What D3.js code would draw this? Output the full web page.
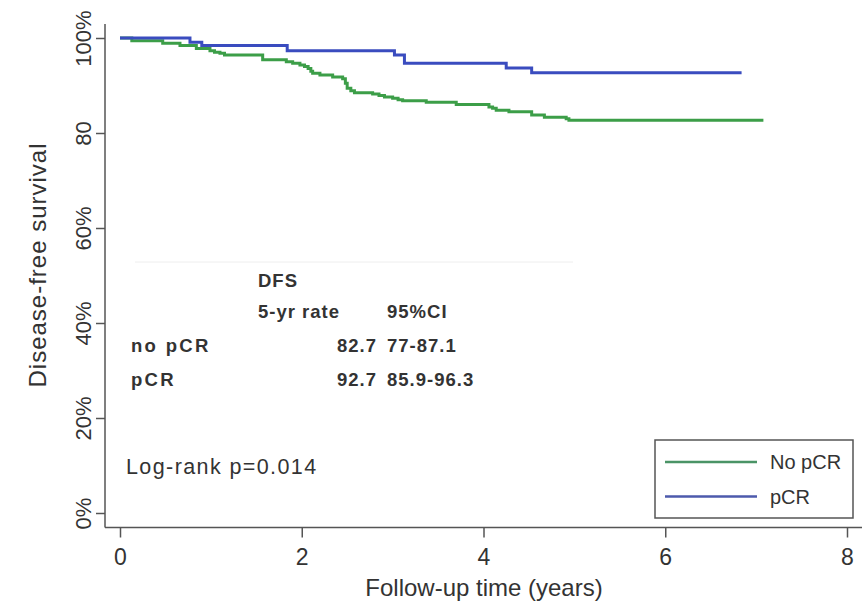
<!DOCTYPE html>
<html>
<head>
<meta charset="utf-8">
<script src="https://cdn.jsdelivr.net/npm/d3@7"></script>
<style>
  body { margin: 0; background: #fff; }
  text { font-family: "Liberation Sans", Arial, sans-serif; fill: #333; }
</style>
</head>
<body>
<svg id="chart" width="868" height="604"></svg>
<script>
// KM curves (time in years, survival as fraction)
const noPcrTime = [0, 0.13, 0.47, 0.66, 0.84, 0.99, 1.04, 1.10, 1.15, 1.57, 1.83, 1.90, 1.98, 2.03, 2.07, 2.10, 2.12, 2.20, 2.34, 2.45, 2.48, 2.50, 2.54, 2.58, 2.78, 2.85, 2.91, 3.00, 3.06, 3.11, 3.37, 3.70, 4.06, 4.10, 4.14, 4.28, 4.53, 4.67, 4.91, 4.94, 7.08];
const noPcrSurv = [1.000, 0.994, 0.989, 0.984, 0.978, 0.973, 0.970, 0.968, 0.964, 0.954, 0.950, 0.947, 0.943, 0.940, 0.936, 0.930, 0.926, 0.922, 0.918, 0.914, 0.905, 0.894, 0.889, 0.885, 0.882, 0.879, 0.876, 0.873, 0.870, 0.868, 0.865, 0.860, 0.855, 0.852, 0.848, 0.845, 0.838, 0.833, 0.830, 0.827, 0.827];
const pcrTime = [0, 0.77, 0.90, 1.84, 3.02, 3.13, 4.25, 4.53, 6.84];
const pcrSurv = [1.000, 0.991, 0.984, 0.973, 0.964, 0.947, 0.937, 0.927, 0.927];

const xTicks = [0, 2, 4, 6, 8];
const yTicks = [0, 0.2, 0.4, 0.6, 0.8, 1.0];
const yTickLabels = ["0%", "20%", "40%", "60%", "80", "100%"];

const tableHeader = ["DFS", "5-yr rate", "95%CI"];
const tableGroups = ["no pCR", "pCR"];
const tableRates = ["82.7", "92.7"];
const tableCI = ["77-87.1", "85.9-96.3"];

const legendLabels = ["No pCR", "pCR"];
const colors = ["#3c9e48", "#3a4cbf"];
const legendColors = ["#4a9466", "#4d5aac"];

const svg = d3.select("#chart");
const x = d3.scaleLinear().domain([0, 8]).range([120, 847]);
const y = d3.scaleLinear().domain([0, 1]).range([513, 38]);

const axisX = 105, axisY = 527.5;

// линии осей
svg.append("line").attr("x1", axisX).attr("x2", axisX).attr("y1", 24).attr("y2", axisY)
    .attr("stroke", "#555").attr("stroke-width", 1.5);
svg.append("line").attr("x1", axisX).attr("x2", 862).attr("y1", axisY).attr("y2", axisY)
    .attr("stroke", "#555").attr("stroke-width", 1.5);

//ось ox
const gx = svg.append("g")
    .attr("transform", `translate(0,${axisY})`)
    .call(d3.axisBottom(x).tickValues(xTicks).tickSize(10).tickSizeOuter(0).tickFormat(d3.format("d")));
gx.select(".domain").remove();
gx.selectAll("line").attr("stroke", "#555").attr("stroke-width", 1.5);
gx.selectAll("text").style("font-size", "23px").attr("y", 37).attr("dy", 0).attr("fill", "#333");

//ось oy
const gy = svg.append("g")
    .attr("transform", `translate(${axisX},0)`)
    .call(d3.axisLeft(y).tickValues(yTicks).tickSize(9).tickSizeOuter(0).tickFormat((d, i) => yTickLabels[i]));
gy.select(".domain").remove();
gy.selectAll("line").attr("stroke", "#555").attr("stroke-width", 1.5);
gy.selectAll("text")
    .attr("transform", "rotate(-90)")
    .attr("x", 0).attr("y", -14).attr("dy", 0)
    .attr("text-anchor", "middle")
    .style("font-size", "22px").attr("fill", "#333");

//подписи осей
svg.append("text")
    .attr("x", 484).attr("y", 596)
    .attr("text-anchor", "middle")
    .style("font-size", "24px")
    .text("Follow-up time (years)");
svg.append("text")
    .attr("transform", "translate(46,265) rotate(-90)")
    .attr("text-anchor", "middle")
    .style("font-size", "24px").style("letter-spacing", "1px")
    .text("Disease-free survival");

// кривые
const line = d3.line().x(d => x(d[0])).y(d => y(d[1])).curve(d3.curveStepAfter);
const series = [
    d3.zip(noPcrTime, noPcrSurv),
    d3.zip(pcrTime, pcrSurv)
];
svg.selectAll(".km")
    .data(series)
    .enter()
    .append("path")
    .attr("class", "km")
    .attr("d", line)
    .attr("fill", "none")
    .attr("stroke", (d, i) => colors[i])
    .attr("stroke-width", 3);

// таблица
svg.append("line").attr("x1", 135).attr("x2", 573).attr("y1", 262).attr("y2", 262)
    .attr("stroke", "#eeeeee").attr("stroke-width", 1);
const tbl = svg.append("g").style("font-size", "18.5px").style("font-weight", "bold")
    .style("letter-spacing", "1px");
tbl.append("text").attr("x", 258).attr("y", 287).attr("fill", "#111").text(tableHeader[0]);
tbl.append("text").attr("x", 258).attr("y", 318).attr("fill", "#111").text(tableHeader[1]);
tbl.append("text").attr("x", 387).attr("y", 318).attr("fill", "#111").text(tableHeader[2]);
tableGroups.forEach((g, i) => {
    const yy = 352 + i * 34;
    tbl.append("text").attr("x", 131).attr("y", yy).attr("fill", "#111").style("letter-spacing", "2.3px").text(g);
    tbl.append("text").attr("x", 377).attr("y", yy).attr("fill", "#111").attr("text-anchor", "end").text(tableRates[i]);
    tbl.append("text").attr("x", 387).attr("y", yy).attr("fill", "#111").text(tableCI[i]);
});

svg.append("text")
    .attr("x", 126).attr("y", 474)
    .style("font-size", "21.5px").style("letter-spacing", "1.4px")
    .text("Log-rank p=0.014");

// легенда
const lg = svg.append("g");
lg.append("rect").attr("x", 655).attr("y", 440).attr("width", 198).attr("height", 78)
    .attr("fill", "#fff").attr("stroke", "#555").attr("stroke-width", 1.5);
legendLabels.forEach((name, i) => {
    const yy = 462 + i * 34.5;
    lg.append("line").attr("x1", 665).attr("x2", 757).attr("y1", yy).attr("y2", yy)
        .attr("stroke", legendColors[i]).attr("stroke-width", 2.5);
    lg.append("text").attr("x", 770).attr("y", yy + 7).style("font-size", "20px").text(name);
});
</script>
</body>
</html>
